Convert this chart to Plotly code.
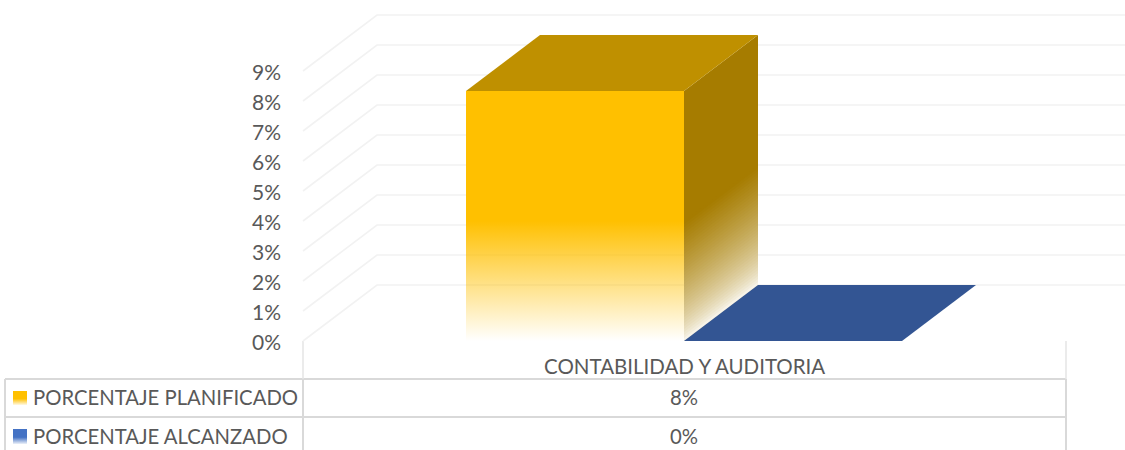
import plotly.graph_objects as go

# ---- data ----
categories = ["CONTABILIDAD Y AUDITORIA"]
series_names = ["PORCENTAJE PLANIFICADO", "PORCENTAJE ALCANZADO"]
planned_values = [8.33]
achieved_values = [0.0]
table_labels = ["8%", "0%"]
tick_values = [0, 1, 2, 3, 4, 5, 6, 7, 8, 9]

# ---- styling and layout constants ----
W, H = 1125, 450
PX_PER_PCT = 30.0
Y0_PX = 341.0
DX, DY_PCT = 74.0, 56.0 / PX_PER_PCT     # oblique depth offset (x px, y in %)
BAND_L, BAND_R = 303.0, 1066.0
CAT_C = 684.0
BAR_W = 218.0
FONT = "Lato"
TEXT = "#595959"
GRID = "#f2f2f2"
TABLE = "#d9d9d9"

def py(p):           # pixel row to axis value (for table furniture only)
    return (Y0_PX - p) / PX_PER_PCT

def poly(fig, xs, ys, **kw):
    fig.add_trace(go.Scatter(x=xs + xs[:1], y=ys + ys[:1], mode="lines", fill="toself",
                             line=dict(width=0), hoverinfo="skip", showlegend=False, **kw))

def mix(rgb, t):     # t = 1 full colour, t = 0 white
    return "rgb(%d,%d,%d)" % tuple(round(255 + (c - 255) * t) for c in rgb)

fig = go.Figure()

# gridlines on the back wall and side wall
for v in tick_values:
    fig.add_trace(go.Scatter(x=[BAND_L, BAND_L + DX, W], y=[v, v + DY_PCT, v + DY_PCT], mode="lines",
                             line=dict(color=GRID, width=1.6), hoverinfo="skip", showlegend=False))

cx = CAT_C
val = planned_values[0]

# planned bar
xl, xr = cx - BAR_W, cx
FADE_TOP = 4.0   # value at which the fade begins
side = (166, 124, 0)
poly(fig, [xr, xr + DX, xr + DX, xr], [val, val + DY_PCT, 0 + DY_PCT, 0], fillcolor=mix(side, 1))
N = 40
for i in range(N, 0, -1):
    lv = FADE_TOP * i / N
    t = (i / N) ** 0.65
    poly(fig, [xr, xr + DX, xr + DX, xr], [lv, lv + DY_PCT, DY_PCT, 0], fillcolor=mix(side, t))

poly(fig, [xl, xl + DX, xr + DX, xr], [val, val + DY_PCT, val + DY_PCT, val], fillcolor="#BF9000")
poly(fig, [xl, xr, xr, xl], [val, val, 0, 0],
     fillcolor="rgba(0,0,0,0)",
     fillgradient=dict(type="vertical", start=val, stop=0,
                       colorscale=[[0, "rgba(255,192,0,1)"], [(val - FADE_TOP) / val, "rgba(255,192,0,1)"],
                                   [1, "rgba(255,192,0,0)"]]))

# achieved bar (zero height: only its top face shows)
v2 = achieved_values[0]
xl2, xr2 = cx, cx + BAR_W
poly(fig, [xl2, xl2 + DX, xr2 + DX, xr2], [v2, v2 + DY_PCT, v2 + DY_PCT, v2], fillcolor="#335593")

# data table furniture
shapes = []
def seg(x0, p0, x1, p1, color=TABLE, w=2):
    shapes.append(dict(type="line", xref="x", yref="y", x0=x0, x1=x1, y0=py(p0), y1=py(p1),
                       line=dict(color=color, width=w), layer="below"))
ROW = [379, 417]
for p in ROW:
    seg(5, p, BAND_R, p)
seg(5, ROW[0], 5, H)
seg(BAND_L, ROW[0], BAND_L, H)
seg(BAND_R, ROW[0], BAND_R, H)
seg(BAND_L, Y0_PX, BAND_L, ROW[0], "#e4e4e4", 1.5)
seg(BAND_R, Y0_PX, BAND_R, ROW[0], "#e4e4e4", 1.5)

# legend keys
key_colors = [(255, 192, 0), (68, 114, 196)]
key_rows = [(391, 405), (429, 444)]
for (t, b), c in zip(key_rows, key_colors):
    poly(fig, [13, 27, 27, 13], [py(t), py(t), py(b), py(b)],
         fillcolor="rgba(0,0,0,0)",
         fillgradient=dict(type="vertical", start=py(t), stop=py(b),
                           colorscale=[[0, mix(c, 1)], [0.55, mix(c, 1)], [1, mix(c, 0.1)]]))

anns = []
TS = 20.3
def label(x, p, s, anchor, size=TS):
    anns.append(dict(x=x, y=py(p), xref="x", yref="y", text=s, showarrow=False, xanchor=anchor,
                     yanchor="middle", font=dict(family=FONT, size=size, color=TEXT)))
label(cx + 0.5, 366, categories[0], "center", 20.5)
for name, lab, p in zip(series_names, table_labels, [397, 436]):
    label(31, p, name, "left")
    label(cx, p, lab, "center")

fig.update_layout(
    width=W, height=H, autosize=False,
    margin=dict(l=0, r=0, t=0, b=0),
    paper_bgcolor="white", plot_bgcolor="white",
    showlegend=False, shapes=shapes, annotations=anns,
    font=dict(family=FONT, size=TS, color=TEXT),
    xaxis=dict(range=[0, W], visible=False, domain=[0, 1], fixedrange=True),
    yaxis=dict(range=[py(H), py(0)], domain=[0, 1], anchor="free", position=281 / W,
               tickvals=tick_values, ticktext=["%d%%" % v for v in tick_values],
               showgrid=False, zeroline=False, showline=False, ticks="", ticklabelshift=2,
               tickfont=dict(family=FONT, size=21, color=TEXT), fixedrange=True),
)
fig.write_html("out.html", config=dict(displayModeBar=False),
               post_script="document.documentElement.style.overflow='hidden';document.body.style.margin='0';")
